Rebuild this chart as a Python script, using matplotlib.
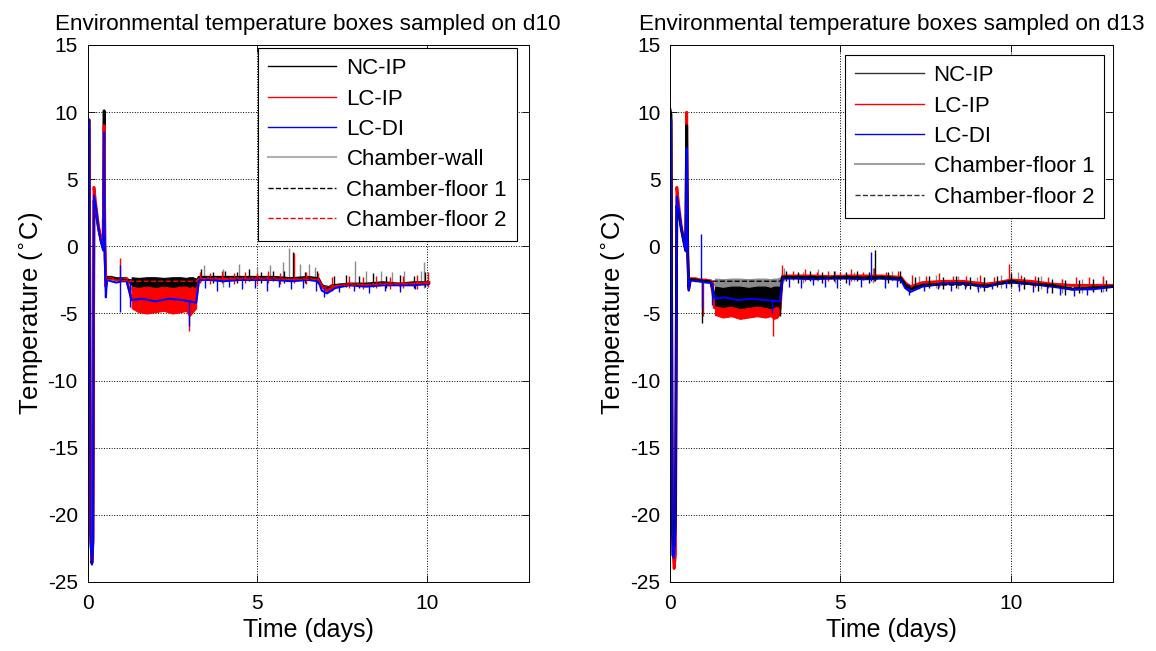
import matplotlib
matplotlib.use('Agg')
import matplotlib.pyplot as plt
from matplotlib.lines import Line2D

plt.rcParams['font.family'] = ['Liberation Sans', 'DejaVu Sans']
plt.rcParams['axes.unicode_minus'] = False

# ---------------- d10 panel ----------------
d10_t = [0.00, 0.05, 0.09, 0.13, 0.16, 0.19, 0.25, 0.32, 0.40, 0.46, 0.49, 0.51, 0.54, 0.57,
         0.70, 0.85, 1.00, 1.15, 1.30, 1.60, 2.00, 2.40, 2.80, 3.20, 3.28, 3.60, 4.00, 4.50,
         5.00, 5.50, 6.00, 6.50, 6.80, 6.90, 7.05, 7.30, 7.70, 8.20, 8.70, 9.20, 9.60, 10.05]
d10_nc = [9.5, 9.4, -21.0, -23.6, -22.0, 3.4, 2.6, 1.4, 0.4, -0.1, 10.1, 0.2, -2.6, -2.3,
          -2.3, -2.4, -2.4, -2.4, -2.8, -2.8, -2.8, -2.8, -2.8, -2.8, -2.3, -2.3, -2.3, -2.3,
          -2.3, -2.3, -2.4, -2.3, -2.4, -2.9, -3.1, -2.9, -2.8, -2.8, -2.7, -2.8, -2.7, -2.7]
d10_lcip = [9.5, 9.4, -20.5, -23.4, -21.8, 4.4, 3.0, 1.6, 0.5, 0.0, 9.0, 0.1, -3.0, -2.4,
            -2.4, -2.5, -2.5, -2.4, -4.0, -4.0, -4.0, -4.0, -4.0, -4.0, -2.4, -2.4, -2.4, -2.4,
            -2.4, -2.4, -2.5, -2.4, -2.5, -3.0, -3.3, -3.0, -2.8, -2.9, -2.8, -2.8, -2.8, -2.7]
d10_lcdi = [9.5, 9.4, -22.0, -23.7, -22.5, 3.8, 2.9, 1.4, 0.3, -0.3, 8.5, -1.0, -3.8, -2.5,
            -2.6, -2.7, -2.6, -2.6, -4.0, -3.9, -4.1, -3.9, -4.0, -4.2, -2.5, -2.5, -2.6, -2.5,
            -2.5, -2.5, -2.6, -2.5, -2.6, -3.3, -3.5, -3.1, -2.9, -3.0, -2.9, -2.9, -2.9, -2.8]
d10_wall = [9.3, 9.2, -22.5, -23.7, -22.8, 3.0, 2.4, 1.2, 0.3, -0.2, 8.0, 0.0, -2.5, -2.4,
            -2.4, -2.4, -2.4, -2.4, -2.6, -2.6, -2.6, -2.6, -2.6, -2.6, -2.3, -2.3, -2.35, -2.3,
            -2.3, -2.3, -2.4, -2.35, -2.5, -3.0, -3.1, -2.9, -2.8, -2.8, -2.75, -2.8, -2.75, -2.7]
d10_floor_t = [0.57, 1.30, 3.20, 3.28, 6.80, 6.95, 7.30, 10.05]
d10_floor1 = [-2.4, -2.5, -2.5, -2.35, -2.4, -3.0, -2.85, -2.75]
d10_floor2 = [-2.45, -2.6, -2.6, -2.4, -2.45, -3.05, -2.9, -2.75]

d10_band_t = [1.30, 1.50, 1.75, 2.00, 2.25, 2.50, 2.75, 2.90, 3.00, 3.10, 3.20]
d10_nc_hi = [-2.3, -2.35, -2.3, -2.3, -2.35, -2.3, -2.3, -2.35, -2.3, -2.3, -2.4]
d10_nc_lo = [-3.3, -3.3, -3.25, -3.3, -3.35, -3.3, -3.3, -3.4, -3.35, -3.3, -3.3]
d10_lcip_hi = [-3.0, -3.1, -3.0, -3.1, -3.0, -3.1, -3.0, -3.0, -3.1, -3.0, -3.2]
d10_lcip_lo = [-4.6, -4.9, -5.0, -4.9, -4.8, -5.0, -4.9, -4.8, -5.2, -4.9, -4.6]

d10_nc_sp_t = [3.35, 3.70, 4.05, 4.40, 4.75, 5.10, 5.45, 5.80, 6.06, 6.40, 6.75, 7.25, 7.60,
               8.00, 8.40, 8.80, 9.20, 9.60, 9.95]
d10_nc_sp_hi = [-1.7, -1.9, -1.8, -1.9, -1.7, -1.9, -1.8, -1.8, -0.4, -1.9, -1.8, -2.2, -2.1,
                -2.2, -2.0, -2.2, -2.1, -2.2, -1.9]
d10_nc_sp_lo = [-2.6, -2.7, -2.6, -2.7, -2.6, -2.7, -2.6, -2.7, -2.6, -2.7, -2.7, -3.1, -3.0,
                -3.1, -3.0, -3.1, -3.0, -3.1, -3.0]
d10_lcip_sp_t = [0.95, 2.98, 3.30, 3.62, 3.96, 4.30, 4.64, 4.98, 5.32, 5.66, 6.08, 6.44, 6.78,
                 7.20, 7.70, 8.10, 8.50, 8.90, 9.30, 9.70, 10.02]
d10_lcip_sp_hi = [-0.9, -3.2, -1.9, -2.0, -1.8, -2.0, -1.9, -2.0, -1.8, -2.0, -0.5, -1.9, -2.0,
                  -2.3, -2.2, -2.3, -2.2, -2.3, -2.2, -2.1, -1.9]
d10_lcip_sp_lo = [-2.6, -6.3, -2.7, -2.8, -2.7, -2.8, -2.7, -2.8, -2.7, -2.8, -2.7, -2.8, -2.8,
                  -3.3, -3.1, -3.2, -3.1, -3.2, -3.1, -3.2, -3.0]
d10_lcdi_sp_t = [0.95, 1.25, 2.98, 3.45, 3.82, 4.18, 4.55, 4.92, 5.28, 5.64, 6.00, 6.36, 6.72,
                 6.95, 7.40, 7.85, 8.30, 8.75, 9.20, 9.65]
d10_lcdi_sp_hi = [-1.4, -2.6, -4.0, -2.4, -2.4, -2.4, -2.4, -2.4, -2.4, -2.4, -2.4, -2.4, -2.4,
                  -2.9, -2.8, -2.8, -2.8, -2.8, -2.8, -2.8]
d10_lcdi_sp_lo = [-4.9, -4.5, -5.9, -3.1, -3.3, -3.0, -3.2, -3.1, -3.3, -3.0, -3.2, -3.1, -3.3,
                  -3.8, -3.4, -3.3, -3.5, -3.3, -3.4, -3.2]
d10_wall_sp_t = [3.43, 3.98, 4.45, 5.00, 5.38, 5.75, 5.93, 6.25, 6.52, 6.69, 7.87, 8.19, 8.65,
                 8.98, 9.32, 9.82, 9.92]
d10_wall_sp_hi = [-1.4, -1.7, -1.3, -1.5, -1.4, -1.2, -0.1, -1.3, -1.3, -1.5, -1.1, -1.8, -1.8,
                  -1.9, -1.8, -1.8, -1.2]
d10_wall_sp_lo = [-2.5, -3.0, -2.5, -2.5, -2.5, -2.5, -2.5, -2.5, -2.5, -2.5, -2.9, -2.9, -2.9,
                  -2.9, -2.9, -2.9, -3.1]

# ---------------- d13 panel ----------------
d13_t = [0.00, 0.03, 0.07, 0.12, 0.16, 0.20, 0.26, 0.33, 0.40, 0.46, 0.49, 0.52, 0.55, 0.60,
         0.75, 0.90, 1.05, 1.20, 1.32, 1.60, 2.00, 2.40, 2.80, 3.23, 3.30, 3.70, 4.20, 4.70,
         5.20, 5.70, 6.20, 6.78, 6.90, 7.05, 7.40, 8.00, 8.60, 9.28, 9.60, 10.00, 10.60,
         11.20, 11.80, 12.40, 13.00]
d13_nc = [10.2, 9.8, -21.5, -22.3, -20.0, 3.0, 2.5, 1.3, 0.4, -0.3, 9.0, -0.6, -3.0, -2.5,
          -2.5, -2.6, -2.6, -2.7, -3.8, -3.8, -3.8, -3.8, -3.8, -3.9, -2.3, -2.3, -2.3, -2.35,
          -2.3, -2.35, -2.3, -2.4, -2.9, -3.2, -2.9, -2.8, -2.75, -3.0, -2.8, -2.6, -2.8,
          -2.9, -3.2, -3.1, -3.0]
d13_lcip = [9.5, 9.4, -22.0, -24.0, -23.0, 4.4, 3.0, 1.5, 0.6, -0.2, 10.0, -0.5, -3.2, -2.4,
            -2.4, -2.5, -2.5, -2.6, -4.6, -4.6, -4.7, -4.6, -4.6, -4.7, -2.2, -2.2, -2.2, -2.25,
            -2.2, -2.2, -2.2, -2.3, -2.7, -3.0, -2.7, -2.6, -2.6, -2.8, -2.7, -2.5, -2.6,
            -2.8, -2.9, -2.9, -2.9]
d13_lcdi = [9.5, 9.5, -23.0, -23.2, -21.0, 3.7, 2.7, 1.4, 0.5, -0.3, 7.3, -0.8, -3.3, -2.5,
            -2.6, -2.6, -2.7, -2.7, -3.9, -3.8, -4.0, -3.9, -4.0, -4.1, -2.4, -2.4, -2.45, -2.4,
            -2.4, -2.45, -2.4, -2.5, -3.1, -3.4, -3.0, -2.8, -2.8, -3.0, -2.8, -2.7, -2.8,
            -3.0, -3.2, -3.2, -3.0]
d13_floor1 = [9.0, 9.0, -21.4, -21.4, -20.0, 2.8, 2.3, 1.2, 0.3, -0.4, 7.0, -0.8, -2.6, -2.4,
              -2.5, -2.5, -2.5, -2.5, -2.9, -2.9, -2.9, -2.9, -2.9, -2.9, -2.3, -2.3, -2.3, -2.3,
              -2.3, -2.3, -2.3, -2.35, -2.8, -3.0, -2.8, -2.7, -2.7, -2.9, -2.7, -2.6, -2.7,
              -2.8, -3.0, -3.0, -3.0]
d13_floor2_t = [0.60, 1.32, 3.23, 3.30, 6.78, 7.05, 7.40, 9.28, 10.00, 11.80, 13.00]
d13_floor2 = [-2.45, -2.6, -2.6, -2.35, -2.4, -3.1, -2.85, -2.9, -2.7, -3.1, -3.0]

d13_band_t = [1.32, 1.55, 1.80, 2.05, 2.30, 2.55, 2.80, 2.95, 3.05, 3.15, 3.23]
d13_floor1_hi = [-2.4, -2.45, -2.4, -2.4, -2.45, -2.4, -2.4, -2.45, -2.4, -2.4, -2.3]
d13_floor1_lo = [-3.3, -3.3, -3.35, -3.3, -3.3, -3.35, -3.3, -3.3, -3.35, -3.3, -3.2]
d13_nc_hi = [-3.0, -3.1, -3.0, -3.0, -3.1, -3.0, -3.0, -3.1, -3.0, -3.0, -3.0]
d13_nc_lo = [-4.4, -4.5, -4.4, -4.6, -4.5, -4.4, -4.5, -4.6, -4.5, -4.4, -4.6]
d13_lcip_hi = [-4.1, -4.2, -4.1, -4.2, -4.1, -4.1, -4.2, -4.1, -4.2, -4.1, -4.2]
d13_lcip_lo = [-5.1, -5.3, -5.2, -5.4, -5.3, -5.2, -5.3, -5.2, -5.4, -5.3, -5.0]

d13_nc_sp_t = [0.95, 3.23, 3.40, 3.75, 4.10, 4.45, 4.80, 5.15, 5.50, 5.85, 6.03, 6.40, 6.75,
               7.20, 7.60, 8.00, 8.40, 8.80, 9.20, 9.60, 10.00, 10.40, 10.80, 11.20, 11.60,
               12.00, 12.40, 12.80]
d13_nc_sp_hi = [-2.5, -3.0, -1.8, -1.9, -1.8, -1.9, -1.8, -1.9, -1.8, -1.9, -0.3, -1.9, -1.8,
                -2.3, -2.2, -2.3, -2.2, -2.3, -2.3, -2.2, -2.0, -2.3, -2.3, -2.4, -2.5, -2.5,
                -2.4, -2.5]
d13_nc_sp_lo = [-5.7, -5.2, -2.6, -2.7, -2.6, -2.7, -2.6, -2.7, -2.6, -2.7, -2.6, -2.7, -2.7,
                -3.2, -3.1, -3.2, -3.1, -3.2, -3.3, -3.0, -3.0, -3.2, -3.3, -3.5, -3.6, -3.5,
                -3.4, -3.3]
d13_lcip_sp_t = [0.96, 1.25, 3.01, 3.28, 3.62, 3.96, 4.30, 4.64, 4.98, 5.32, 5.66, 6.00, 6.34,
                 6.68, 7.10, 7.50, 7.90, 8.30, 8.70, 9.10, 9.50, 9.95, 10.30, 10.70, 11.10,
                 11.50, 11.90, 12.30, 12.70]
d13_lcip_sp_hi = [-2.5, -2.6, -4.3, -1.4, -1.8, -1.7, -1.9, -1.8, -1.9, -1.7, -1.9, -1.6, -1.9,
                  -1.8, -2.1, -2.2, -2.0, -2.2, -2.2, -2.1, -2.3, -1.3, -2.1, -2.2, -2.3, -2.4,
                  -2.3, -2.3, -2.2]
d13_lcip_sp_lo = [-5.2, -4.6, -6.7, -2.5, -2.5, -2.6, -2.5, -2.6, -2.5, -2.6, -2.5, -2.6, -2.5,
                  -2.6, -3.0, -2.9, -3.0, -2.9, -3.0, -3.1, -2.9, -2.8, -2.9, -3.0, -3.1, -3.2,
                  -3.1, -3.0, -3.0]
d13_lcdi_sp_t = [0.91, 0.95, 1.22, 3.00, 3.50, 3.85, 4.20, 4.55, 4.90, 5.25, 5.60, 5.91, 6.30,
                 6.65, 7.00, 7.45, 7.85, 8.25, 8.65, 9.05, 9.45, 9.85, 10.25, 10.65, 11.05,
                 11.45, 11.85, 12.25, 12.65]
d13_lcdi_sp_hi = [0.9, -2.6, -2.7, -4.0, -2.3, -2.3, -2.3, -2.3, -2.3, -2.3, -2.3, -0.4, -2.3,
                  -2.3, -2.8, -2.7, -2.7, -2.7, -2.7, -2.8, -2.7, -2.6, -2.7, -2.8, -2.9, -3.0,
                  -3.0, -3.0, -2.9]
d13_lcdi_sp_lo = [-2.6, -4.6, -4.4, -5.0, -3.0, -3.1, -2.9, -3.0, -3.1, -2.9, -3.0, -2.6, -3.1,
                  -3.0, -3.6, -3.3, -3.2, -3.3, -3.2, -3.4, -3.2, -3.1, -3.3, -3.4, -3.5, -3.6,
                  -3.7, -3.6, -3.4]
d13_floor1_sp_t = [3.35, 3.90, 4.35, 4.85, 5.40, 5.95, 6.50, 7.30, 7.80, 8.45, 9.00, 9.70,
                   10.20, 10.90, 11.50, 12.10, 12.70]
d13_floor1_sp_hi = [-1.6, -1.9, -1.7, -1.8, -1.9, -1.6, -1.8, -2.2, -2.1, -2.2, -2.3, -2.1,
                    -1.9, -2.2, -2.4, -2.4, -2.3]
d13_floor1_sp_lo = [-2.6, -2.7, -2.6, -2.7, -2.6, -2.7, -2.6, -3.2, -3.1, -3.2, -3.2, -3.1,
                    -3.0, -3.2, -3.5, -3.5, -3.4]

GREY = '#8a8a8a'


def draw_series(ax, t, v, color, lw=2.0, ls='-', band=None, spikes=None, z=2):
    ax.plot(t, v, color=color, lw=lw, ls=ls, zorder=z)
    if band is not None:
        bt, lo, hi = band
        ax.fill_between(bt, lo, hi, color=color, lw=0.8, edgecolor=color, zorder=z)
    if spikes is not None:
        st, lo, hi = spikes
        ax.vlines(st, lo, hi, color=color, lw=1.0, zorder=z)


def style(ax, title, legend_handles, legend_labels, anchor):
    ax.set_xlim(0, 13)
    ax.set_ylim(-25, 15)
    ax.set_xticks([0, 5, 10])
    ax.set_yticks(range(-25, 16, 5))
    ax.set_axisbelow(True)
    ax.grid(True, ls=':', color='k', lw=0.7)
    ax.tick_params(direction='in', top=True, right=True, length=5, width=0.6,
                   labelsize=15)
    ax.tick_params(axis='x', pad=9)
    ax.tick_params(axis='y', pad=7)
    for s in ax.spines.values():
        s.set_linewidth(0.7)
    ax.set_xlabel('Time (days)', fontsize=18, labelpad=3)
    ax.set_ylabel('Temperature ($^{\\circ}$C)', fontsize=18.5, labelpad=2)
    ax.set_title(title, fontsize=16.2, pad=11)
    leg = ax.legend(legend_handles, legend_labels, loc='upper right',
                    bbox_to_anchor=anchor, borderaxespad=0, fontsize=16,
                    handlelength=3.1, labelspacing=0.42, handletextpad=0.45,
                    borderpad=0.45, fancybox=False, framealpha=1)
    leg.get_frame().set_edgecolor('k')
    leg.get_frame().set_linewidth(0.8)


fig = plt.figure(figsize=(11.56, 6.51), dpi=100)
ax1 = fig.add_axes([0.0757, 0.106, 0.3819, 0.8249])
ax2 = fig.add_axes([0.5796, 0.106, 0.3832, 0.8249])

# left panel
draw_series(ax1, d10_t, d10_wall, GREY, lw=1.2,
            spikes=(d10_wall_sp_t, d10_wall_sp_lo, d10_wall_sp_hi), z=1.5)
draw_series(ax1, d10_t, d10_nc, 'k',
            band=(d10_band_t, d10_nc_lo, d10_nc_hi),
            spikes=(d10_nc_sp_t, d10_nc_sp_lo, d10_nc_sp_hi))
draw_series(ax1, d10_t, d10_lcip, 'r',
            band=(d10_band_t, d10_lcip_lo, d10_lcip_hi),
            spikes=(d10_lcip_sp_t, d10_lcip_sp_lo, d10_lcip_sp_hi))
draw_series(ax1, d10_t, d10_lcdi, 'b', lw=1.5,
            spikes=(d10_lcdi_sp_t, d10_lcdi_sp_lo, d10_lcdi_sp_hi))
draw_series(ax1, d10_floor_t, d10_floor1, 'k', lw=1.0, ls='--')
draw_series(ax1, d10_floor_t, d10_floor2, 'r', lw=1.0, ls='--')

h1 = [Line2D([], [], color='k', lw=1), Line2D([], [], color='r', lw=1),
      Line2D([], [], color='b', lw=1), Line2D([], [], color='#b0b0b0', lw=1.5),
      Line2D([], [], color='k', lw=1, ls='--'), Line2D([], [], color='r', lw=1, ls='--')]
l1 = ['NC-IP', 'LC-IP', 'LC-DI', 'Chamber-wall', 'Chamber-floor 1', 'Chamber-floor 2']
style(ax1, 'Environmental temperature boxes sampled on d10', h1, l1, (0.973, 0.994))

# right panel
draw_series(ax2, d13_t, d13_floor1, GREY, lw=1.4,
            band=(d13_band_t, d13_floor1_lo, d13_floor1_hi),
            spikes=(d13_floor1_sp_t, d13_floor1_sp_lo, d13_floor1_sp_hi), z=1.5)
draw_series(ax2, d13_t, d13_lcip, 'r',
            band=(d13_band_t, d13_lcip_lo, d13_lcip_hi),
            spikes=(d13_lcip_sp_t, d13_lcip_sp_lo, d13_lcip_sp_hi))
draw_series(ax2, d13_t, d13_nc, 'k',
            band=(d13_band_t, d13_nc_lo, d13_nc_hi),
            spikes=(d13_nc_sp_t, d13_nc_sp_lo, d13_nc_sp_hi))
draw_series(ax2, d13_t, d13_lcdi, 'b', lw=1.5,
            spikes=(d13_lcdi_sp_t, d13_lcdi_sp_lo, d13_lcdi_sp_hi))
draw_series(ax2, d13_floor2_t, d13_floor2, 'k', lw=1.0, ls='--')

h2 = [Line2D([], [], color='#333333', lw=1), Line2D([], [], color='r', lw=1),
      Line2D([], [], color='b', lw=1), Line2D([], [], color='#a0a0a0', lw=1.5),
      Line2D([], [], color='#333333', lw=1, ls='--')]
l2 = ['NC-IP', 'LC-IP', 'LC-DI', 'Chamber-floor 1', 'Chamber-floor 2']
style(ax2, 'Environmental temperature boxes sampled on d13', h2, l2, (0.980, 0.981))

fig.savefig('out.png', dpi=100)
